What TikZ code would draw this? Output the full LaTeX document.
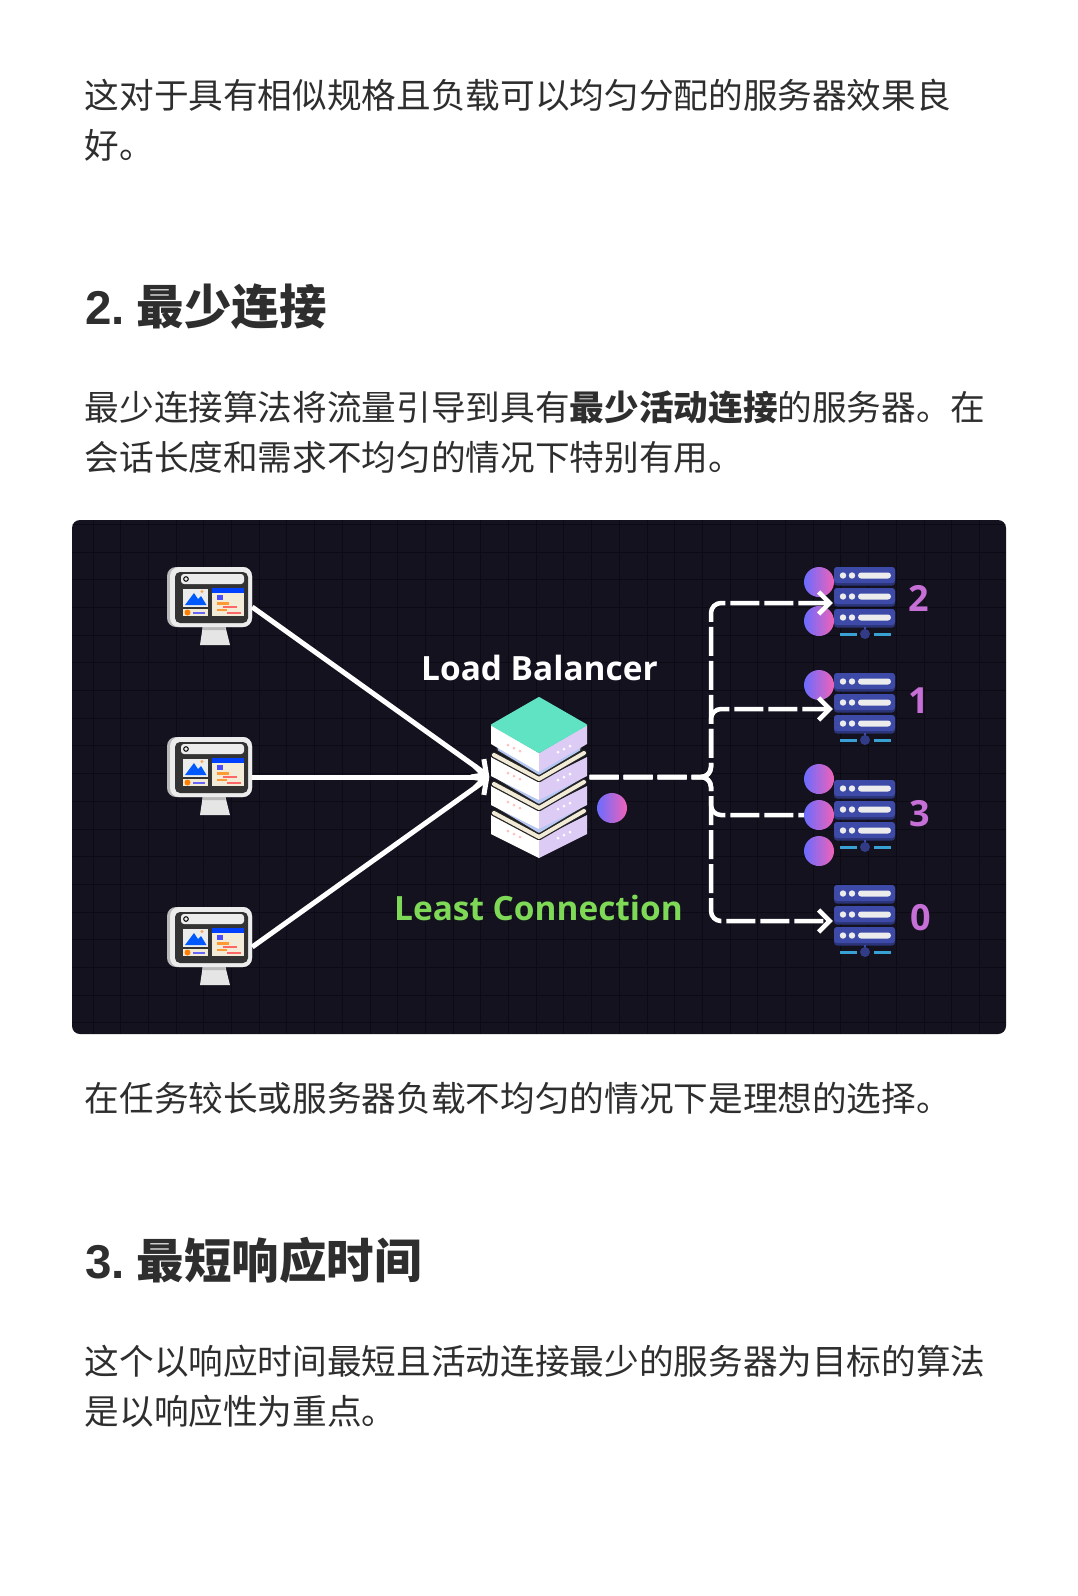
\documentclass[tikz,border=0pt]{standalone}
\usepackage{fontspec}
\setmainfont{Noto Sans CJK SC}
\newfontfamily\latinfont{Open Sans}
\newfontfamily\headfont{Liberation Sans}
\usetikzlibrary{arrows.meta}

\definecolor{panelbg}{HTML}{14121F}
\definecolor{gridline}{HTML}{0C0B15}
\definecolor{bodytext}{HTML}{2E2E2E}
\definecolor{ballblue}{HTML}{6A6CFF}
\definecolor{ballpink}{HTML}{F062B8}
\definecolor{lilac}{HTML}{DCCBF5}
\definecolor{mint}{HTML}{5FE3C3}
\definecolor{cream}{HTML}{F2EBD8}
\definecolor{plate}{HTML}{B4C6F2}
\definecolor{rack}{HTML}{3D4AA8}
\definecolor{rackbar}{HTML}{38A0D2}
\definecolor{countlabel}{HTML}{C66FD6}
\definecolor{leastgreen}{HTML}{7ED957}

\tikzset{
  para/.style={anchor=base west,inner sep=0pt,text=bodytext,font=\fontsize{34.65}{34.65}\selectfont},
  head/.style={anchor=base west,inner sep=0pt,text=bodytext,font=\fontsize{47.5}{47.5}\selectfont\bfseries},
  ball/.style={circle,inner sep=0pt,minimum size=30pt,left color=ballblue,right color=ballpink},
  count/.style={text=countlabel,inner sep=0pt,font=\latinfont\fontsize{36}{36}\selectfont\bfseries},
  title/.style={inner sep=0pt,font=\latinfont\fontsize{33.4}{33.4}\selectfont\bfseries},
  solidarrow/.style={white,line width=5pt,-{Straight Barb[length=11pt,width=22pt,line width=5pt]}},
  dashline/.style={white,line width=4.5pt,rounded corners=10pt,dash pattern=on 29pt off 5pt},
  dasharrow/.style={dashline,-{Straight Barb[length=11pt,width=22pt,line width=4.5pt]}},
}

% client screen, top left of the monitor at (#1,#2)
\newcommand{\client}[3]{
  \begin{scope}[shift={(#1,#2)}]
    \fill[gray!20] (36,58) -- (58,58) -- (63,78) -- (33,78) -- cycle;
    \fill[gray!55] (36,58) -- (58,58) -- (58.6,63) -- (35.4,63) -- cycle;
    \fill[gray!55,rounded corners=9pt] (0,0) rectangle (85,60);
    \fill[gray!15,rounded corners=9pt] (3,0) rectangle (85,60);
    \fill[black!80,rounded corners=5pt] (8,5) rectangle (81,56);
    \fill[gray!15,rounded corners=3pt] (14,7) rectangle (77,17);
    \draw[black,line width=1pt] (19,12) circle (2.3);
    \fill[gray!15] (16,22) rectangle (41,40);
    \fill[blue!65!cyan] (18,38) -- (27,26) -- (31,32) -- (34,29) -- (39.5,38) -- cycle;
    \fill[orange!70] (35,24.5) circle (1.6);
    \fill[cream] (16,42) rectangle (41,49);
    \fill[orange] (20.5,45.5) circle (3);
    \fill[blue!60] (26,44.5) rectangle (38,46.5);
    \fill[cream] (45,21) rectangle (77,49);
    \fill[blue!75!cyan] (45,21) rectangle (77,26);
    \fill[blue!70] (50,28) rectangle (56,33);
    \fill[orange!80] (50,35) rectangle (62,37.5);
    \fill[red!60] (56,39) rectangle (70,41);
    \fill[orange!80] (50,42) rectangle (60,44);
    \fill[red!60] (60,45) rectangle (74,47);
    \node[inner sep=0pt,minimum width=85pt] (#3) at (42.5,40) {};
  \end{scope}
}

% one layer of the balancer stack, top left corner at (491,#1), slope of its top edge #2
\newcommand{\layer}[2]{
  \fill[white] (491,#1) -- (539,#1+#2) -- (539,#1+#2+19) -- (491,#1+19) -- cycle;
  \fill[lilac] (587,#1) -- (539,#1+#2) -- (539,#1+#2+19) -- (587,#1+19) -- cycle;
  \foreach \i in {0,1,2} {
    \fill[pink] (508+6*\i,#1+#2-8+3*\i) circle (1.5);
    \fill[white] (558+6*\i,#1+#2-1-3*\i) circle (1.5);
  }
}

% plates on top of the layer whose top left corner is at (491,#1)
\newcommand{\plates}[1]{
  \draw[black!85,line width=6.5pt,line cap=round,line join=round] (494,#1-2) -- (539,#1+22) -- (584,#1-4);
  \draw[cream,line width=4pt,line cap=round,line join=round] (494,#1-2) -- (539,#1+22) -- (584,#1-4);
  \draw[black!85,line width=6pt,line cap=round,line join=round] (499,#1-8) -- (539,#1+16) -- (579,#1-8);
  \draw[plate,line width=3.5pt,line cap=round,line join=round] (499,#1-8) -- (539,#1+16) -- (579,#1-8);
}

% server rack, top left at (834,#1)
\newcommand{\server}[2]{
  \begin{scope}[shift={(834,#1)}]
    \foreach \r in {0,21,42} {
      \fill[rack!70!black,rounded corners=3pt] (0,\r) rectangle (61,\r+18.5);
      \fill[rack,rounded corners=3pt] (0,\r) rectangle (61,\r+16);
      \fill[gray!15] (9,\r+8.5) circle (3.2);
      \fill[gray!15] (18,\r+8.5) circle (3.2);
      \fill[gray!15,rounded corners=3pt] (24,\r+5.5) rectangle (57,\r+11.5);
    }
    \draw[rackbar,line width=3pt] (6,67) -- (23,67) (40,67) -- (57,67);
    \draw[rack,line width=1.5pt] (31,67) -- (31,60);
    \fill[rack!80!black] (31,67) circle (5);
    \node[inner sep=0pt,minimum width=63pt] (#2) at (30.5,36) {};
  \end{scope}
}

\begin{document}
\begin{tikzpicture}[x=1pt,y=-1pt]
  \useasboundingbox (0,0) rectangle (1078,1596);
  \fill[white] (0,0) rectangle (1078,1596);

  \node[para] (P1) at (84.5,108) {这对于具有相似规格且负载可以均匀分配的服务器效果良};
  \node[para] (P2) at (84.5,158) {好。};
  \node[head] (H2) at (85,324) {{\headfont 2.}\hspace{12pt}最少连接};
  \node[para] (P3) at (84.5,420) {最少连接算法将流量引导到具有{\bfseries 最少活动连接}的服务器。在};
  \node[para] (P4) at (84.5,470) {会话长度和需求不均匀的情况下特别有用。};
  \node[para] (P5) at (84.5,1111) {在任务较长或服务器负载不均匀的情况下是理想的选择。};
  \node[head] (H3) at (85,1278) {{\headfont 3.}\hspace{12pt}最短响应时间};
  \node[para] (P6) at (84.5,1374) {这个以响应时间最短且活动连接最少的服务器为目标的算法};
  \node[para] (P7) at (84.5,1424) {是以响应性为重点。};

  % panel
  \fill[panelbg,rounded corners=8pt] (72,520) rectangle (1006,1034);
  \begin{scope}
    \clip[rounded corners=8pt] (72,520) rectangle (1006,1034);
    \foreach \x in {93,120.7,...,1006} \draw[gridline,line width=1pt] (\x,520) -- (\x,1034);
    \foreach \y in {524.3,552,...,1034} \draw[gridline,line width=1pt] (72,\y) -- (1006,\y);
  \end{scope}

  \client{167}{567}{C1}
  \client{167}{737}{C2}
  \client{167}{907}{C3}

  % balancer
  \layer{815}{24} \plates{815}
  \layer{786}{24} \plates{786}
  \layer{757}{24} \plates{757}
  \layer{725}{28}
  \fill[mint,draw=mint,line width=2pt,line join=round] (539,698) -- (586,725) -- (539,752) -- (492,725) -- cycle;
  \node[inner sep=0pt,minimum size=1pt] (LBw) at (490,777) {};
  \node[inner sep=0pt,minimum size=1pt] (LBe) at (589,777) {};

  \node[title,text=white] (TB) at (539.5,668) {Load Balancer};
  \node[title,text=leastgreen] (TL) at (538.5,908) {Least Connection};
  \node[ball] (B0) at (612,808) {};

  \server{567}{S1}
  \server{673}{S2}
  \server{780}{S3}
  \server{885}{S4}

  \node[ball] (B1) at (819,582) {};
  \node[ball] (B2) at (819,621) {};
  \node[ball] (B3) at (819,685) {};
  \node[ball] (B4) at (819,815) {};
  \node[ball] (B5) at (819,779) {};
  \node[ball] (B6) at (819,851) {};

  \coordinate (J) at (711,777);

  \draw[solidarrow] (C1.east) -- (LBw);
  \draw[solidarrow] (C3.east) -- (LBw);
  \draw[solidarrow] (C2.east) -- (LBw);

  \draw[dashline] (LBe) -- (J) |- (B4);
  \draw[dasharrow] (LBe) -- (J) |- (S1.west);
  \draw[dasharrow] (LBe) -- (J) |- (S2.west);
  \draw[dasharrow] (LBe) -- (J) |- (S4.west);

  \node[count] (N1) at (919,598) {2};
  \node[count] (N2) at (919,701) {1};
  \node[count] (N3) at (919.5,814) {3};
  \node[count] (N4) at (920.5,918) {0};
\end{tikzpicture}
\end{document}
